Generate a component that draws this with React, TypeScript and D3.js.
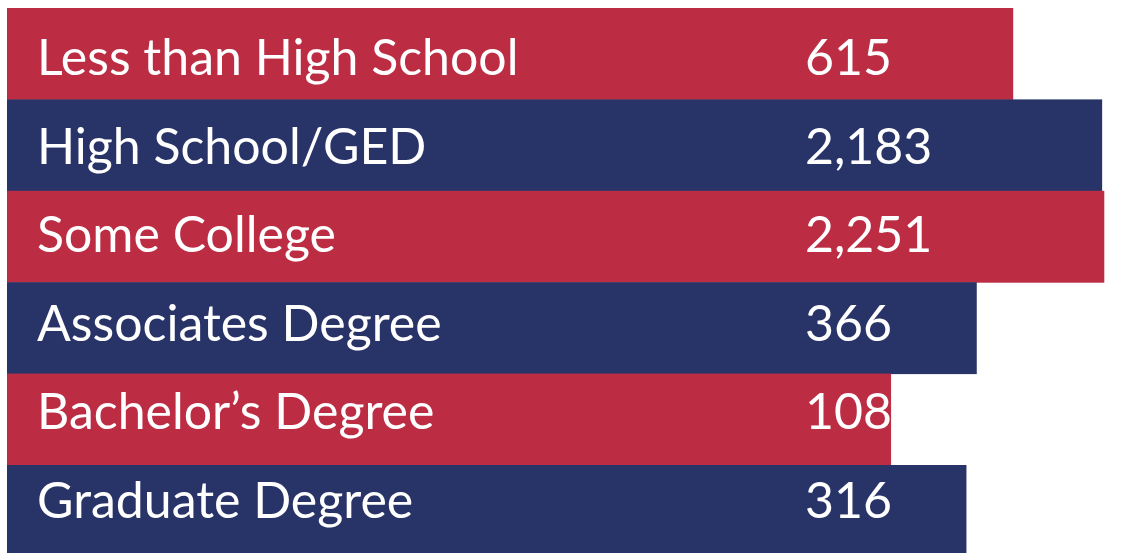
import React from "react";
import * as d3 from "d3";

const categories = [
  "Less than High School",
  "High School/GED",
  "Some College",
  "Associates Degree",
  "Bachelor\u2019s Degree",
  "Graduate Degree",
];
const values = [615, 2183, 2251, 366, 108, 316];
const colors = ["#BC2D44", "#283468"];

const W = 1135;
const H = 553;

export default function App() {
  const x = d3.scaleLog().domain([10, 10000]).range([724, 1209]);
  const y = d3
    .scaleBand<number>()
    .domain(d3.range(categories.length))
    .range([8, 8 + 91.4 * categories.length])
    .paddingInner(0);
  const yText = d3
    .scalePoint<number>()
    .domain(d3.range(categories.length))
    .range([75, 75 + 88.5 * (categories.length - 1)]);
  const fmt = d3.format(",");
  const left = 7;
  return (
    <svg
      width={W}
      height={H}
      style={{ position: "absolute", left: 0, top: 0, display: "block" }}
    >
      {categories.map((c, i) => (
        <g key={c}>
          <rect
            x={left}
            y={y(i)!}
            width={Math.min(x(values[i]), W) - left}
            height={y.bandwidth() + 0.5}
            fill={colors[i % 2]}
          />
        </g>
      ))}
      {categories.map((c, i) => (
        <g key={c + "t"} fill="#fff" fontFamily="Lato, 'Open Sans', sans-serif" fontSize={50}>
          <text x={37} y={yText(i)!}>
            {c}
          </text>
          <text x={805} y={yText(i)!}>
            {fmt(values[i])}
          </text>
        </g>
      ))}
    </svg>
  );
}
